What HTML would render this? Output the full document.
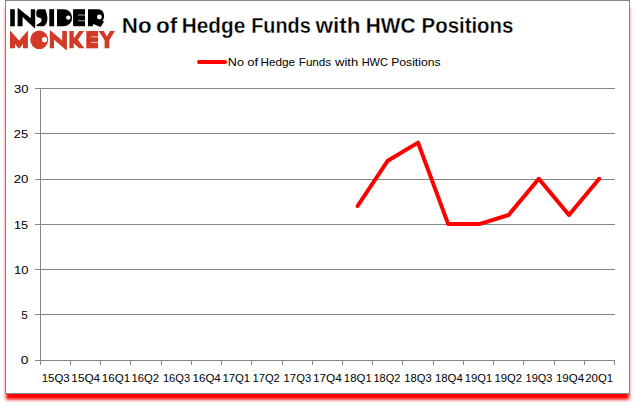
<!DOCTYPE html>
<html>
<head>
<meta charset="utf-8">
<title>No of Hedge Funds with HWC Positions</title>
<style>
html,body{margin:0;padding:0;background:#fff;}
body{width:635px;height:405px;overflow:hidden;position:relative;font-family:"Liberation Sans",sans-serif;}
#box{position:absolute;left:5px;top:0;width:623px;height:392px;border:1px solid #868686;background:#fff;box-shadow:0 6.5px 3px -1px #ff0000,0 6px 5px 0 rgba(255,0,0,.1);}
svg{position:absolute;left:0;top:0;}
text{font-family:"Liberation Sans",sans-serif;fill:#000;}
</style>
</head>
<body>
<div id="box"></div>
<svg width="635" height="405" viewBox="0 0 635 405">
<!-- gridlines and axes -->
<g stroke="#868686" stroke-width="1" shape-rendering="crispEdges" fill="none">
<path d="M35 88.5H615M35 133.5H615M35 179.5H615M35 224.5H615M35 269.5H615M35 314.5H615M35 360.5H615"/>
<path d="M40.5 88V365"/>
<path d="M70.5 360V365M100.5 360V365M130.5 360V365M161.5 360V365M191.5 360V365M221.5 360V365M251.5 360V365M282.5 360V365M312.5 360V365M342.5 360V365M372.5 360V365M402.5 360V365M433.5 360V365M463.5 360V365M493.5 360V365M523.5 360V365M554.5 360V365M584.5 360V365M614.5 360V365"/>
</g>
<!-- data line -->
<polyline fill="none" stroke="#ff0000" stroke-width="4" stroke-linecap="round" stroke-linejoin="round"
 points="357.6,206.0 387.8,160.7 418.0,142.6 448.2,224.1 479.3,224.1 508.6,215.0 538.8,178.8 569.0,215.0 599.2,178.8"/>
<!-- legend -->
<line x1="199" y1="62" x2="225" y2="62" stroke="#ff0000" stroke-width="4" stroke-linecap="round"/>
<g>
<text transform="translate(227.82,65.90) scale(1.1044,1)" font-size="11.4">No</text>
<text transform="translate(247.29,65.90) scale(1.1425,1)" font-size="11.4">of</text>
<text transform="translate(260.58,65.90) scale(1.0298,1)" font-size="11.4">Hedge</text>
<text transform="translate(298.79,65.90) scale(1.0218,1)" font-size="11.4">Funds</text>
<text transform="translate(335.00,65.90) scale(1.1458,1)" font-size="11.4">with</text>
<text transform="translate(361.64,65.90) scale(0.9676,1)" font-size="11.4">HWC</text>
<text transform="translate(391.15,65.90) scale(1.0709,1)" font-size="11.4">Positions</text>
</g>
<!-- title -->
<g>
<text transform="translate(121.75,32.90) scale(1.0036,1)" font-size="22.3" font-weight="bold" stroke="#fff" stroke-width="0.30" paint-order="fill stroke">No</text>
<text transform="translate(156.04,32.90) scale(1.0103,1)" font-size="22.3" font-weight="bold" stroke="#fff" stroke-width="0.30" paint-order="fill stroke">of</text>
<text transform="translate(181.76,32.90) scale(0.9317,1)" font-size="22.3" font-weight="bold" stroke="#fff" stroke-width="0.30" paint-order="fill stroke">Hedge</text>
<text transform="translate(251.22,32.90) scale(0.8913,1)" font-size="22.3" font-weight="bold" stroke="#fff" stroke-width="0.30" paint-order="fill stroke">Funds</text>
<text transform="translate(315.50,32.90) scale(1.0124,1)" font-size="22.3" font-weight="bold" stroke="#fff" stroke-width="0.30" paint-order="fill stroke">with</text>
<text transform="translate(365.76,32.90) scale(0.9347,1)" font-size="22.3" font-weight="bold" stroke="#fff" stroke-width="0.30" paint-order="fill stroke">HWC</text>
<text transform="translate(421.59,32.90) scale(0.9155,1)" font-size="22.3" font-weight="bold" stroke="#fff" stroke-width="0.30" paint-order="fill stroke">Positions</text>
</g>
<!-- y labels -->
<g>
<text transform="translate(13.89,93.40) scale(1.1462,1)" font-size="11.4">30</text>
<text transform="translate(13.69,138.40) scale(1.1383,1)" font-size="11.4">25</text>
<text transform="translate(13.68,183.40) scale(1.1634,1)" font-size="11.4">20</text>
<text transform="translate(14.01,229.40) scale(1.1125,1)" font-size="11.4">15</text>
<text transform="translate(13.99,274.40) scale(1.1383,1)" font-size="11.4">10</text>
<text transform="translate(21.33,319.40) scale(1.0323,1)" font-size="11.4">5</text>
<text transform="translate(20.77,364.40) scale(1.2105,1)" font-size="11.4">0</text>
</g>
<!-- x labels -->
<g>
<text transform="translate(41.68,381.90) scale(1.0070,1)" font-size="11.4">15Q3</text>
<text transform="translate(71.36,381.90) scale(1.0338,1)" font-size="11.4">15Q4</text>
<text transform="translate(101.77,381.90) scale(1.0182,1)" font-size="11.4">16Q1</text>
<text transform="translate(131.50,381.90) scale(0.9883,1)" font-size="11.4">16Q2</text>
<text transform="translate(162.90,381.90) scale(0.9770,1)" font-size="11.4">16Q3</text>
<text transform="translate(192.58,381.90) scale(1.0115,1)" font-size="11.4">16Q4</text>
<text transform="translate(222.39,381.90) scale(0.9958,1)" font-size="11.4">17Q1</text>
<text transform="translate(252.50,381.90) scale(0.9808,1)" font-size="11.4">17Q2</text>
<text transform="translate(283.60,381.90) scale(0.9883,1)" font-size="11.4">17Q3</text>
<text transform="translate(312.96,381.90) scale(1.0338,1)" font-size="11.4">17Q4</text>
<text transform="translate(343.79,381.90) scale(1.0032,1)" font-size="11.4">18Q1</text>
<text transform="translate(373.51,381.90) scale(0.9658,1)" font-size="11.4">18Q2</text>
<text transform="translate(404.20,381.90) scale(0.9883,1)" font-size="11.4">18Q3</text>
<text transform="translate(434.99,381.90) scale(0.9966,1)" font-size="11.4">18Q4</text>
<text transform="translate(464.80,381.90) scale(0.9808,1)" font-size="11.4">19Q1</text>
<text transform="translate(494.50,381.90) scale(0.9883,1)" font-size="11.4">19Q2</text>
<text transform="translate(525.61,381.90) scale(0.9621,1)" font-size="11.4">19Q3</text>
<text transform="translate(555.88,381.90) scale(1.0115,1)" font-size="11.4">19Q4</text>
<text transform="translate(585.26,381.90) scale(1.0040,1)" font-size="11.4">20Q1</text>
</g>
<!-- logo -->
<g id="logo-insider" fill="#000">
<rect x="10.2" y="9.2" width="4.6" height="17.1"/>
<polygon points="17.6,8.2 18.3,8.2 30.8,18.2 30.8,9.2 35.2,9.2 35.2,26.3 34.8,28.4 22.6,16.9 22.6,26.3 17.6,26.3"/>
<path d="M38.8 9.2L45.3 9.2C46.6 13 47.5 16 47.4 19C47.3 23.5 45 26.3 42.5 26.3L36.9 26.3L36.2 25.2L41 22C41.8 21.2 41.8 19.6 41 18.6C40.3 17.8 39 17.6 37.8 17.3C36.6 16.8 36.2 15.3 36.2 13.6C36.2 10.8 37.2 9.2 38.8 9.2Z"/>
<rect x="49.3" y="9.2" width="4.8" height="17.1"/>
<path d="M57 9.2H63.7A8.5 8.5 0 0 1 63.7 26.2H57Z"/>
<path d="M73.1 9.2H85V26.2H73.1Z"/>
<path d="M88 9.2H98.5C102 9.2 104.1 12.5 104.1 16C104.1 17.5 103.8 18.7 103.3 19.6L102.2 21.4L104.5 21.1L100.5 27L93.4 24L92.6 26.3H88Z"/>
</g>
<g fill="#fff">
<circle cx="68.3" cy="17.6" r="2.2"/>
<circle cx="99.4" cy="17.0" r="2.4"/>
<rect x="78" y="14.5" width="7.1" height="1" fill="#a8a8a8"/>
<rect x="78" y="20.3" width="7.1" height="1" fill="#a8a8a8"/>
</g>
<g id="logo-monkey" fill="#d23a27">
<polygon points="10,30.5 19.1,40.4 27.9,30.5 27.9,48.2 23,48.2 23,44 19.6,48.2 18.6,48.2 15,44 15,48.2 10,48.2"/>
<ellipse cx="39.2" cy="39.8" rx="8.95" ry="9.3"/>
<polygon points="49.8,30.6 50.5,30.6 62.2,40.4 62.2,31 66.9,31 66.9,48.3 66.6,50.6 54,39.7 54,48.3 49.8,48.3"/>
<polygon points="69.4,31 73.7,31 73.7,38.4 79.2,31 84.1,31 77.9,39.7 84.4,48.3 79.4,48.3 73.7,43.2 73.7,48.3 69.4,48.3"/>
<rect x="86.3" y="31" width="11.8" height="17.3"/>
<polygon points="98.7,31 103.8,31 106.9,36.6 110,31 114.9,31 109.3,40.2 109.3,48.3 104.6,48.3 104.6,40.2"/>
</g>
<g fill="#fff">
<circle cx="44.5" cy="39.7" r="2.6"/>
<rect x="91.3" y="36.2" width="6.9" height="1.1" fill="#f0c0b8"/>
<rect x="91.3" y="41.9" width="6.9" height="1.1" fill="#f0c0b8"/>
</g>
</svg>
</body>
</html>
